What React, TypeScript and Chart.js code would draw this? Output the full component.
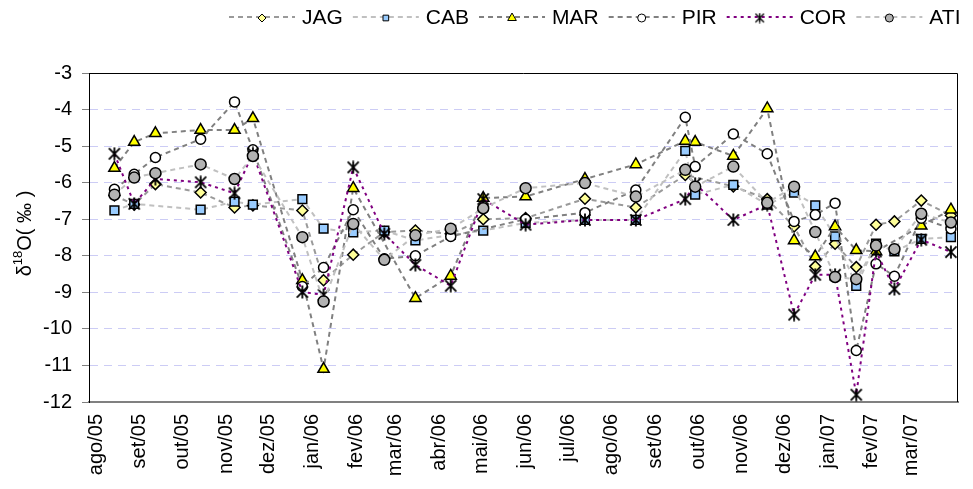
import React, { useEffect, useRef } from "react";
import { Chart, registerables } from "chart.js";

Chart.register(...registerables);

// ---------------- data ----------------
const SERIES_NAMES = ["JAG", "CAB", "MAR", "PIR", "COR", "ATI"];

const SAMPLE_DATES = [
  "2005-08-14", "2005-08-28", "2005-09-12", "2005-10-14", "2005-11-07", "2005-11-20",
  "2005-12-25", "2006-01-09", "2006-01-30", "2006-02-21", "2006-03-15", "2006-04-09",
  "2006-05-02", "2006-06-01", "2006-07-13", "2006-08-18", "2006-09-22", "2006-09-29",
  "2006-10-26", "2006-11-19", "2006-12-08", "2006-12-23", "2007-01-06", "2007-01-21",
  "2007-02-04", "2007-02-17", "2007-03-08", "2007-03-29",
];

const JAG = [-6.35, -6.6, -6.04, -6.27, -6.68, -6.62, -6.76, -8.67, -7.97, -7.35, -7.31, -7.4, -7.0, -6.97,
  -6.44, -6.68, -5.79, null, -6.1, -6.45, -7.2, -8.29, -7.67, -8.31, -7.15, -7.06, -6.49, -6.9];
const CAB = [-6.76, -6.58, null, -6.74, -6.52, -6.6, -6.45, -7.26, -7.36, -7.31, -7.58, -7.43, -7.31, -7.1,
  -7.02, -7.02, -5.13, -6.33, -6.06, -6.6, -6.27, -6.62, -7.47, -8.82, -7.67, -7.88, -7.54, -7.49];
const MAR = [-5.6, -4.89, -4.65, -4.56, -4.56, -4.24, -8.67, -11.1, -6.15, null, -9.16, -8.55, -6.42, -6.38,
  -5.9, -5.5, -4.86, -4.89, -5.27, -3.97, -7.58, -8.02, -7.2, -7.85, -7.88, null, -7.18, -6.74];
const PIR = [-6.18, -5.77, -5.31, -4.81, -3.79, -5.1, -8.84, -8.32, -6.74, -8.08, -8.0, -7.47, null, -7.0,
  -6.82, -6.2, -4.21, -5.56, -4.67, -5.21, -7.06, -6.88, -6.56, -10.59, -8.22, -8.56, -6.97, -7.26];
const COR = [-5.21, -6.58, -5.9, -5.99, -6.29, -5.2, -8.99, -9.07, -5.58, -7.4, -8.25, -8.82, -6.45, -7.15,
  -7.02, -7.02, -6.45, -6.03, -7.02, -6.6, -9.61, -8.52, -8.52, -11.8, -7.88, -8.91, -7.56, -7.9];
const ATI = [-6.33, -5.86, -5.74, -5.5, -5.9, -5.27, -7.49, -9.25, -7.13, -8.11, -7.44, -7.26, -6.7, -6.15,
  -6.01, -6.38, -5.65, -6.11, -5.56, -6.55, -6.11, -7.35, -8.58, -8.64, -7.72, -7.82, -6.85, -7.09];

const SERIES_VALUES = [JAG, CAB, MAR, PIR, COR, ATI];

const MONTH_LABELS = [
  "ago/05", "set/05", "out/05", "nov/05", "dez/05", "jan/06", "fev/06", "mar/06", "abr/06", "mai/06",
  "jun/06", "jul/06", "ago/06", "set/06", "out/06", "nov/06", "dez/06", "jan/07", "fev/07", "mar/07",
];

const Y_MIN = -12;
const Y_MAX = -3;
const X_START = "2005-07-27";
const X_END = "2007-04-03";

// ---------------- styles ----------------
const FONT = '"Liberation Sans", Arial, sans-serif';
const STYLES = [
  { point: "rectRot", r: 5.5, fill: "#FFFF99", line: "#9A9A9A", dash: [5, 4], width: 2 },
  { point: "rect", r: 6.2, fill: "#99CCFF", line: "#C0C0C0", dash: [5, 4], width: 2 },
  { point: "triangle", r: 6.5, fill: "#FFFF00", line: "#808080", dash: [5, 4], width: 2 },
  { point: "circle", r: 5, fill: "#FFFFFF", line: "#808080", dash: [5, 4], width: 2 },
  { point: "asterisk", r: 6, fill: "#000000", line: "#800080", dash: [3, 4], width: 2 },
  { point: "circle", r: 5.5, fill: "#B2B2B2", line: "#C0C0C0", dash: [5, 4], width: 2 },
];

const BASE = Date.parse("2005-08-01");
const dayOf = (s: string) => (Date.parse(s) - BASE) / 86400000;
const MONTH_TICKS = MONTH_LABELS.map((_, i) => (Date.UTC(2005, 7 + i, 1) - BASE) / 86400000);

function makeAsterisk(size: number, lw: number) {
  const c = document.createElement("canvas");
  c.width = size;
  c.height = size;
  const g = c.getContext("2d")!;
  g.strokeStyle = "#000";
  g.lineWidth = lw;
  g.lineCap = "butt";
  const m = size / 2;
  const r = size / 2 - 0.5;
  const d = r * 0.85;
  g.beginPath();
  g.moveTo(m - d, m - d);
  g.lineTo(m + d, m + d);
  g.moveTo(m + d, m - d);
  g.lineTo(m - d, m + d);
  g.moveTo(m, m - r);
  g.lineTo(m, m + r);
  g.stroke();
  return c;
}

function drawMarker(ctx: CanvasRenderingContext2D, kind: string, x: number, y: number, r: number, fill: string, img?: HTMLCanvasElement) {
  if (kind === "asterisk") {
    if (img) ctx.drawImage(img, x - img.width / 2, y - img.height / 2);
    return;
  }
  ctx.save();
  ctx.setLineDash([]);
  ctx.fillStyle = fill;
  ctx.strokeStyle = "#000";
  ctx.lineWidth = 1;
  ctx.beginPath();
  if (kind === "rectRot") {
    ctx.moveTo(x - r, y);
    ctx.lineTo(x, y - r);
    ctx.lineTo(x + r, y);
    ctx.lineTo(x, y + r);
    ctx.closePath();
  } else if (kind === "rect") {
    const s = r * Math.SQRT1_2;
    ctx.rect(x - s, y - s, 2 * s, 2 * s);
  } else if (kind === "triangle") {
    ctx.moveTo(x, y - r);
    ctx.lineTo(x + r * 0.866, y + r / 2);
    ctx.lineTo(x - r * 0.866, y + r / 2);
    ctx.closePath();
  } else {
    ctx.arc(x, y, r, 0, Math.PI * 2);
  }
  ctx.fill();
  ctx.stroke();
  ctx.restore();
}

export default function App() {
  const ref = useRef<HTMLCanvasElement | null>(null);

  useEffect(() => {
    document.body.style.margin = "0";
    const canvas = ref.current;
    if (!canvas) return;

    const starPlot = makeAsterisk(14, 1.8);
    const starLegend = makeAsterisk(11, 1.4);

    const datasets = SERIES_NAMES.map((name, si) => {
      const st = STYLES[si];
      const pts = SAMPLE_DATES.map((d, i) => ({ x: dayOf(d), y: SERIES_VALUES[si][i] })).filter((p) => p.y !== null);
      return {
        label: name,
        data: pts,
        order: SERIES_NAMES.length - 1 - si,
        borderColor: st.line,
        borderWidth: st.width,
        borderDash: st.dash,
        backgroundColor: st.fill,
        pointStyle: st.point === "asterisk" ? (starPlot as any) : st.point,
        pointRadius: st.r,
        pointBackgroundColor: st.fill,
        pointBorderColor: "#000",
        pointBorderWidth: 1.5,
        tension: 0,
        fill: false,
        spanGaps: true,
      };
    });

    const framePlugin = {
      id: "frame",
      beforeDatasetsDraw(chart: any) {
        const { ctx, chartArea: a } = chart;
        ctx.save();
        ctx.strokeStyle = "#000";
        ctx.lineWidth = 1;
        ctx.setLineDash([]);
        ctx.beginPath();
        ctx.moveTo(a.left, a.top + 0.5);
        ctx.lineTo(a.right - 0.5, a.top + 0.5);
        ctx.lineTo(a.right - 0.5, a.bottom);
        ctx.stroke();
        ctx.restore();
      },
    };

    const legendPlugin = {
      id: "customLegend",
      afterDraw(chart: any) {
        const ctx = chart.ctx as CanvasRenderingContext2D;
        const y = 17;
        let m = 262;
        ctx.save();
        ctx.font = `21px ${FONT}`;
        ctx.textBaseline = "middle";
        ctx.textAlign = "left";
        SERIES_NAMES.forEach((name, si) => {
          const st = STYLES[si];
          ctx.save();
          ctx.strokeStyle = st.line;
          ctx.lineWidth = 2;
          ctx.setLineDash(st.dash);
          ctx.beginPath();
          ctx.moveTo(m - 33, y);
          ctx.lineTo(m + 33, y);
          ctx.stroke();
          ctx.restore();
          drawMarker(ctx, st.point, m, y + 1, st.point === "triangle" ? 5 : 4, st.fill, starLegend);
          ctx.fillStyle = "#000";
          ctx.fillText(name, m + 40, y + 1);
          const w = ctx.measureText(name).width;
          m = m + 40 + w + 43;
        });
        ctx.restore();
      },
    };

    const yTitlePlugin = {
      id: "yTitle",
      afterDraw(chart: any) {
        const ctx = chart.ctx as CanvasRenderingContext2D;
        const { top, bottom } = chart.chartArea;
        const big = `20px ${FONT}`;
        const small = `13px ${FONT}`;
        const parts: [string, string, number][] = [
          ["δ", big, 0],
          ["18", small, -7],
          ["O( ‰ )", big, 0],
        ];
        ctx.save();
        ctx.translate(25, (top + bottom) / 2 - 4);
        ctx.rotate(-Math.PI / 2);
        ctx.fillStyle = "#000";
        ctx.textBaseline = "middle";
        ctx.textAlign = "left";
        let total = 0;
        const widths = parts.map(([t, f]) => {
          ctx.font = f;
          const w = ctx.measureText(t).width;
          total += w;
          return w;
        });
        let x = -total / 2;
        parts.forEach(([t, f, dy], i) => {
          ctx.font = f;
          ctx.fillText(t, x, dy);
          x += widths[i];
        });
        ctx.restore();
      },
    };

    const chart = new Chart(canvas, {
      type: "line",
      data: { datasets: datasets as any },
      options: {
        animation: false,
        responsive: false,
        events: [],
        layout: { padding: { left: 5, right: 15, top: 73, bottom: 0 } },
        plugins: {
          legend: { display: false },
          title: { display: false },
          tooltip: { enabled: false },
        },
        scales: {
          x: {
            type: "linear",
            min: dayOf(X_START),
            max: dayOf(X_END),
            afterBuildTicks: (scale: any) => {
              scale.ticks = MONTH_TICKS.map((v) => ({ value: v }));
            },
            afterFit: (scale: any) => {
              scale.height = 87;
            },
            grid: { display: false, drawTicks: false },
            border: { display: true, color: "#808080", width: 2 },
            ticks: {
              autoSkip: false,
              minRotation: 90,
              maxRotation: 90,
              padding: 12,
              color: "#000",
              font: { family: FONT, size: 20 },
              callback: (_v: any, i: number) => MONTH_LABELS[i],
            },
          },
          y: {
            type: "linear",
            min: Y_MIN,
            max: Y_MAX,
            afterFit: (scale: any) => {
              scale.width = 84;
            },
            grid: {
              color: "#CCCCF5",
              lineWidth: 1,
              drawTicks: true,
              tickLength: 7,
              tickColor: "#808080",
              tickWidth: 1,
              tickBorderDash: [],
            },
            border: { display: true, color: "#000", width: 1, dash: [8, 6] },
            ticks: {
              stepSize: 1,
              padding: 10,
              color: "#000",
              font: { family: FONT, size: 20 },
              callback: (v: any) => String(v),
            },
          },
        },
      },
      plugins: [framePlugin, legendPlugin, yTitlePlugin],
    } as any);

    return () => chart.destroy();
  }, []);

  return (
    <div style={{ width: 973, height: 489, position: "relative" }}>
      <canvas ref={ref} width={973} height={489} style={{ display: "block" }} />
    </div>
  );
}
